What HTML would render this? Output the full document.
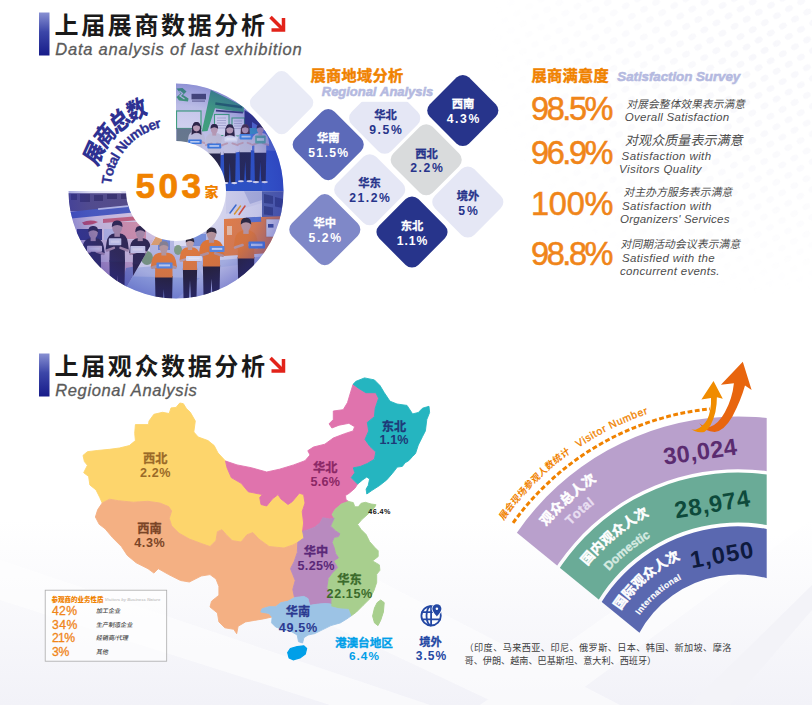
<!DOCTYPE html>
<html lang="zh"><head><meta charset="utf-8"><title>Exhibition data analysis</title>
<style>
html,body{margin:0;padding:0;background:#fff;}
body{width:812px;height:705px;overflow:hidden;font-family:"Liberation Sans","Noto Sans CJK SC",sans-serif;}
svg{display:block;font-family:"Liberation Sans","Noto Sans CJK SC",sans-serif;}
</style></head><body>
<svg role="img" aria-label="Exhibition data infographic" width="812" height="705" viewBox="0 0 812 705">
<defs><pattern id="dots" width="14" height="12" patternUnits="userSpaceOnUse" patternTransform="rotate(-30)"><ellipse cx="7" cy="6" rx="4.2" ry="3" fill="#f7f7fb"/></pattern><radialGradient id="dotmask" cx="0.85" cy="0.15" r="0.75"><stop offset="0" stop-color="#fff"/><stop offset="0.6" stop-color="#fff" stop-opacity="0.5"/><stop offset="1" stop-color="#fff" stop-opacity="0"/></radialGradient><mask id="dm"><rect x="450" y="0" width="362" height="330" fill="url(#dotmask)"/></mask><linearGradient id="streak" x1="0" y1="0" x2="1" y2="0"><stop offset="0" stop-color="#eef0f6" stop-opacity="0"/><stop offset="0.5" stop-color="#eef0f6" stop-opacity="0.9"/><stop offset="1" stop-color="#eef0f6" stop-opacity="0"/></linearGradient></defs>
<rect width="812" height="705" fill="#ffffff"/>
<rect x="450" y="0" width="362" height="330" fill="url(#dots)" mask="url(#dm)"/>
<defs><linearGradient id="bgb" x1="0" y1="0" x2="0" y2="1"><stop offset="0" stop-color="#f2f2f8" stop-opacity="0"/><stop offset="1" stop-color="#f2f2f8" stop-opacity="1"/></linearGradient><linearGradient id="bgl" x1="0" y1="0" x2="1" y2="0"><stop offset="0" stop-color="#f1f1f7" stop-opacity="1"/><stop offset="1" stop-color="#f1f1f7" stop-opacity="0"/></linearGradient></defs>
<rect x="0" y="520" width="812" height="185" fill="url(#bgb)"/>
<g fill="#fff" opacity="0.55"><polygon points="0,560 0,600 330,705 430,705"/><polygon points="150,540 300,540 620,705 500,705"/><polygon points="560,705 812,520 812,470 480,705"/></g>
<polygon points="690,705 812,585 812,610 730,705" fill="#f3f3f8"/>
<defs><linearGradient id="bar" x1="0" y1="0" x2="0" y2="1"><stop offset="0" stop-color="#8890d2"/><stop offset="0.45" stop-color="#3c46a8"/><stop offset="1" stop-color="#171c8a"/></linearGradient></defs>
<rect x="39" y="12.5" width="10.5" height="43" fill="url(#bar)"/>
<text x="54.50" y="34.40" font-size="24" font-weight="bold" letter-spacing="2.64" fill="#1a1a1a">上届展商数据分析</text>
<g stroke="#e2231a" stroke-width="3.5" fill="none" stroke-linecap="butt"><path d="M270.5 17.0 L282.0 28.5"/><path d="M283.5 18.0 L283.5 30.0 L271.5 30.0" stroke-linejoin="miter"/></g>
<text x="55.20 67.91 77.88 83.25 93.22 98.60 108.56 118.53 128.50 132.96 142.00 151.04 155.50 164.54 169.92 179.89 185.26 190.64 195.10 205.07 214.11 219.48 224.86 234.83 243.87 253.84 258.30 268.26 272.72 278.10 282.56 292.52" y="55.3" font-size="16.5" fill="#5a5a5a" font-style="italic" stroke="#5a5a5a" stroke-width="0.3">Data analysis of last exhibition</text>
<rect x="39" y="353.5" width="10.5" height="43" fill="url(#bar)"/>
<text x="54.50" y="375.40" font-size="24" font-weight="bold" letter-spacing="2.64" fill="#1a1a1a">上届观众数据分析</text>
<g stroke="#e2231a" stroke-width="3.5" fill="none" stroke-linecap="butt"><path d="M270.5 358.0 L282.0 369.5"/><path d="M283.5 359.0 L283.5 371.0 L271.5 371.0" stroke-linejoin="miter"/></g>
<text x="55.20 67.76 77.59 87.41 91.72 101.54 111.37 121.19 125.50 130.73 142.39 152.21 162.03 166.34 175.24 184.14 188.45" y="396.3" font-size="16.5" fill="#5a5a5a" font-style="italic" stroke="#5a5a5a" stroke-width="0.3">Regional Analysis</text>
<defs><clipPath id="ring"><path d="M176.00 83.50 A107.50 107.50 0 1 1 68.50 191.00 L126.00 191.00 A50.00 50.00 0 1 0 176.00 141.00 Z"/></clipPath><clipPath id="sec1"><rect x="176" y="80" width="112" height="111.3"/></clipPath><clipPath id="sec2"><path d="M120 191.3 L290 191.3 L290 305 L116.3 305 L160 229 Z"/></clipPath><clipPath id="sec3"><path d="M60 193.2 L182 193.2 L160 229 L116.3 305 L60 305 Z"/></clipPath><filter id="bl" x="-5%" y="-5%" width="110%" height="110%"><feGaussianBlur stdDeviation="0.55"/></filter><filter id="bl2" x="-5%" y="-5%" width="110%" height="110%"><feGaussianBlur stdDeviation="1.2"/></filter><radialGradient id="tint" gradientUnits="userSpaceOnUse" cx="176" cy="191" r="107.5"><stop offset="0.45" stop-color="#4a3fb0" stop-opacity="0.08"/><stop offset="0.8" stop-color="#3b3db4" stop-opacity="0.18"/><stop offset="1" stop-color="#2f33b0" stop-opacity="0.42"/></radialGradient></defs>
<g clip-path="url(#ring)"><g clip-path="url(#sec1)"><g filter="url(#bl)"><rect x="176" y="80" width="112" height="112" fill="#cdcfec"/><rect x="176" y="80" width="36" height="30" fill="#d5d7f0"/><path d="M176.5 88.5 L182.5 88 L186.5 91.5 L183 95 L188.5 98.5 L188 101.5 L179 100.5 L176.5 97 L180.5 93.5 Z" fill="#43a96b"/><path d="M179.5 91 L182.5 93.5 L180 96 L184.5 99 " stroke="#d5d7f0" stroke-width="1.3" fill="none"/><rect x="191.5" y="93.8" width="14.5" height="5.6" fill="#4a4a63"/><rect x="192" y="100.3" width="13" height="1.6" fill="#8a8aa8"/><path d="M210.8 90 L216.5 93 L243.8 106.5 L243.8 112.4 L215 108.3 L207.5 131 L201.8 131.5 Z" fill="#3fae74"/><rect x="215.5" y="102.2" width="27" height="2.6" fill="#1f6a58" transform="rotate(8 215.5 102.2)"/><rect x="216" y="109.8" width="27" height="1.8" fill="#3e3e70" transform="rotate(4 216 109.8)"/><rect x="176.5" y="111" width="24.5" height="17.5" fill="#e3e4f6" stroke="#43ae78" stroke-width="1.2"/><rect x="176.5" y="128.5" width="15" height="14" fill="#6a7d8a"/><rect x="214.5" y="114.5" width="14.5" height="21" fill="#e6e7f7" stroke="#43ae78" stroke-width="1.1"/><rect x="232" y="118" width="12.5" height="18" fill="#e0e1f5" stroke="#43ae78" stroke-width="1.1"/><g stroke="#9a9ac0" stroke-width="0.6"><path d="M217 118h9M217 120.5h9M217 123h9M217 125.5h9M217 128h9M234 121h8M234 123.5h8M234 126h8M234 128.500h8"/></g><path d="M244.500 110 L262 121 L262 140 L244.500 133 Z" fill="#2c2f73"/><path d="M252 122 L290 146 L290 170 L252 160 Z" fill="#5a78d6"/><rect x="249" y="128" width="10" height="6" fill="#3aa0c8"/><path d="M176 172 L205 158 L250 150 L290 158 L290 192 L176 192 Z" fill="#2a52c6"/><path d="M262 150 L290 152 L290 192 L262 192 Z" fill="#2f56cc"/><path d="M190.5 149.5 L202.5 149.5 L201.9 180.2 L197.5 180.2 L196.5 160.1 L195.5 180.2 L191.1 180.2 Z" fill="#22264f"/><ellipse cx="192.0" cy="180.9" rx="3.1" ry="1.1" fill="#e8e8f4"/><ellipse cx="201.0" cy="180.9" rx="3.1" ry="1.1" fill="#e8e8f4"/><path d="M195.0 131.0 Q189.2 131.3 188.3 137.6 L187.6 142.4 L190.7 143.6 L190.5 151.0 L202.5 151.0 L202.3 143.6 L205.4 142.4 L204.7 137.6 Q203.8 131.3 198.0 131.0 Z" fill="#c8c9de"/><path d="M188.6 143.0 L193.9 141.2 M204.4 143.0 L199.1 141.2" stroke="#c7a6b4" stroke-width="1.9" stroke-linecap="round" fill="none"/><rect x="194.6" y="128.8" width="3.8" height="4.6" fill="#c7a6b4"/><path d="M192.1 126.1 Q196.5 119.6 200.9 126.1 L201.5 135.0 Q196.5 130.7 191.5 135.0 Z" fill="#2a2038"/><ellipse cx="196.5" cy="127.0" rx="3.5" ry="4.4" fill="#c7a6b4"/><path d="M192.7 126.7 Q192.7 121.7 196.5 122.1 Q200.3 121.7 200.3 126.7 Q196.5 123.6 192.7 126.7 Z" fill="#2a2038"/><rect x="188.2" y="139.5" width="13.5" height="4.6" rx="0.8" fill="#3b7be0"/><rect x="190.2" y="141.0" width="9.4" height="1.6" fill="#fff" opacity="0.7"/><path d="M207.9 152.0 L220.7 152.0 L220.1 183.2 L215.4 183.2 L214.3 162.7 L213.2 183.2 L208.5 183.2 Z" fill="#23223f"/><ellipse cx="209.4" cy="183.9" rx="3.4" ry="1.1" fill="#e8e8f4"/><ellipse cx="219.2" cy="183.9" rx="3.4" ry="1.1" fill="#e8e8f4"/><path d="M212.7 133.1 Q206.5 133.5 205.5 139.9 L204.8 144.7 L208.0 146.0 L207.9 153.5 L220.7 153.5 L220.6 146.0 L223.8 144.7 L223.1 139.9 Q222.1 133.5 215.9 133.1 Z" fill="#cbcbdc"/><path d="M205.9 145.3 L211.6 143.5 M222.7 145.3 L217.0 143.5" stroke="#c7a6b4" stroke-width="2.0" stroke-linecap="round" fill="none"/><rect x="212.3" y="130.9" width="3.9" height="4.7" fill="#c7a6b4"/><ellipse cx="214.3" cy="129.1" rx="3.5" ry="4.5" fill="#c7a6b4"/><path d="M210.5 128.8 Q210.4 123.7 214.3 124.1 Q218.2 123.7 218.1 128.8 Q214.3 125.7 210.5 128.8 Z" fill="#2a2038"/><rect x="207.3" y="143.5" width="14.0" height="5.0" rx="0.8" fill="#3b7be0"/><rect x="209.4" y="145.1" width="9.8" height="1.7" fill="#fff" opacity="0.7"/><path d="M223.8 151.7 L235.8 151.7 L235.2 182.4 L230.8 182.4 L229.8 162.3 L228.8 182.4 L224.4 182.4 Z" fill="#23264a"/><ellipse cx="225.3" cy="183.1" rx="3.1" ry="1.1" fill="#e8e8f4"/><ellipse cx="234.3" cy="183.1" rx="3.1" ry="1.1" fill="#e8e8f4"/><path d="M228.3 133.2 Q222.5 133.5 221.6 139.8 L220.9 144.6 L224.0 145.8 L223.8 153.2 L235.8 153.2 L235.6 145.8 L238.7 144.6 L238.0 139.8 Q237.1 133.5 231.3 133.2 Z" fill="#d2d2e6"/><path d="M221.9 145.2 L227.2 143.4 M237.7 145.2 L232.4 143.4" stroke="#c7a6b4" stroke-width="1.9" stroke-linecap="round" fill="none"/><rect x="227.9" y="131.0" width="3.8" height="4.6" fill="#c7a6b4"/><path d="M225.4 128.3 Q229.8 121.8 234.2 128.3 L234.8 137.2 Q229.8 132.9 224.8 137.2 Z" fill="#2a2038"/><ellipse cx="229.8" cy="129.2" rx="3.5" ry="4.4" fill="#c7a6b4"/><path d="M226.0 128.9 Q226.0 123.9 229.8 124.3 Q233.6 123.9 233.6 128.9 Q229.8 125.8 226.0 128.9 Z" fill="#2a2038"/><rect x="224.5" y="136.5" width="13.5" height="5.0" rx="0.8" fill="#e8eefc"/><rect x="226.5" y="138.1" width="9.4" height="1.7" fill="#fff" opacity="0.7"/><path d="M239.5 150.8 L250.9 150.8 L250.3 180.5 L246.2 180.5 L245.2 161.0 L244.2 180.5 L240.1 180.5 Z" fill="#22264f"/><ellipse cx="240.9" cy="181.2" rx="3.0" ry="1.0" fill="#e8e8f4"/><ellipse cx="249.5" cy="181.2" rx="3.0" ry="1.0" fill="#e8e8f4"/><path d="M243.8 132.9 Q238.3 133.2 237.5 139.3 L236.8 143.9 L239.7 145.1 L239.5 152.3 L250.9 152.3 L250.7 145.1 L253.6 143.9 L252.9 139.3 Q252.1 133.2 246.6 132.9 Z" fill="#c8c9de"/><path d="M237.8 144.5 L242.8 142.8 M252.6 144.5 L247.6 142.8" stroke="#c7a6b4" stroke-width="1.8" stroke-linecap="round" fill="none"/><rect x="243.3" y="130.8" width="3.7" height="4.5" fill="#c7a6b4"/><path d="M240.9 128.2 Q245.2 121.9 249.5 128.2 L250.0 136.7 Q245.2 132.7 240.4 136.7 Z" fill="#4a2f38"/><ellipse cx="245.2" cy="129.0" rx="3.3" ry="4.3" fill="#c7a6b4"/><path d="M241.6 128.8 Q241.5 123.9 245.2 124.3 Q248.9 123.9 248.8 128.8 Q245.2 125.8 241.6 128.8 Z" fill="#4a2f38"/><rect x="239.6" y="134.0" width="13.0" height="5.4" rx="0.8" fill="#3f8de8"/><rect x="241.5" y="135.7" width="9.1" height="1.8" fill="#fff" opacity="0.7"/><path d="M254.3 151.2 L266.3 151.2 L265.7 181.4 L261.3 181.4 L260.3 161.7 L259.3 181.4 L254.9 181.4 Z" fill="#20254f"/><ellipse cx="255.8" cy="182.1" rx="3.2" ry="1.1" fill="#e8e8f4"/><ellipse cx="264.8" cy="182.1" rx="3.2" ry="1.1" fill="#e8e8f4"/><path d="M258.8 133.1 Q253.0 133.4 252.1 139.5 L251.4 144.3 L254.4 145.4 L254.3 152.7 L266.3 152.7 L266.2 145.4 L269.2 144.3 L268.5 139.5 Q267.6 133.4 261.8 133.1 Z" fill="#cdcde2"/><path d="M252.4 144.9 L257.7 143.1 M268.2 144.9 L262.9 143.1" stroke="#c7a6b4" stroke-width="1.9" stroke-linecap="round" fill="none"/><rect x="258.4" y="130.9" width="3.8" height="4.5" fill="#c7a6b4"/><ellipse cx="260.3" cy="129.1" rx="3.4" ry="4.3" fill="#c7a6b4"/><path d="M256.6 128.8 Q256.5 123.9 260.3 124.3 Q264.1 123.9 264.0 128.8 Q260.3 125.8 256.6 128.8 Z" fill="#2a2038"/><rect x="255.2" y="135.5" width="10.5" height="8.0" rx="0.8" fill="#5fb7a0"/><rect x="256.8" y="138.1" width="7.3" height="2.7" fill="#fff" opacity="0.7"/></g></g><g clip-path="url(#sec2)"><g filter="url(#bl)"><rect x="110" y="190" width="180" height="115" fill="#e1e2f3"/><rect x="262" y="191" width="26" height="27" fill="#5365a8"/><path d="M264 194 l9 2 l0 8 l-9 -1 Z M275 197 l8 2 l0 9 l-8 -1.5 Z M264 206 l9 1.500 l0 8 l-9 -1 Z" fill="#33407e"/><path d="M226 191 L262 191 L262 203 L226 214 Z" fill="#d6d8ef"/><path d="M244 191 L262 191 L262 200 L250 204 Z" fill="#b3b9de"/><g stroke-width="1.5" fill="none" stroke-linecap="round"><path d="M230 213 L236 205" stroke="#3d6fd0"/><path d="M234.5 214 L240.5 206" stroke="#e8a020"/><path d="M239 214.500 L245 206" stroke="#e05030"/></g><path d="M224 219 L284 216 L284 252 L224 256 Z" fill="#ef843f"/><rect x="246" y="217.5" width="15" height="5" fill="#5a79d2" transform="rotate(-3 246 217.5)"/><rect x="266" y="219" width="14" height="18" fill="#e6e6f2" stroke="#c9763f" stroke-width="0.6"/><rect x="268" y="224" width="5.500" height="3.600" fill="#3a4f8f"/><rect x="227" y="226" width="5" height="9" fill="#f6c9a6"/><rect x="150" y="232" width="60" height="32" fill="#bfc3e6"/><rect x="158" y="238" width="12" height="12" fill="#6f8ad8"/><rect x="174" y="236" width="12" height="10" fill="#e9ebfa"/><rect x="190" y="234" width="16" height="12" fill="#7c96dc"/><rect x="200" y="246" width="12" height="12" fill="#a9b4e6"/><rect x="142" y="231" width="20" height="14" fill="#e6a66a"/><ellipse cx="147" cy="258" rx="6" ry="7" fill="#7f9f7a"/><ellipse cx="178" cy="250" rx="4" ry="5" fill="#86a680"/><path d="M110 270 L290 254 L290 305 L110 305 Z" fill="#b9c3e8"/><path d="M110 276 L200 278 L170 305 L110 305 Z" fill="#9db0e2"/><path d="M200 270 L290 258 L290 300 L215 300 Z" fill="#c9cdeb"/><path d="M237.7 257.1 L254.3 257.1 L253.5 300.2 L247.4 300.2 L246.0 271.8 L244.6 300.2 L238.5 300.2 Z" fill="#221d2b"/><path d="M244.0 230.5 Q235.9 230.9 234.7 239.9 L233.7 246.7 L237.9 248.4 L237.7 258.6 L254.3 258.6 L254.1 248.4 L258.3 246.7 L257.3 239.9 Q256.1 230.9 248.0 230.5 Z" fill="#f07d2c"/><path d="M235.1 247.5 L242.5 245.0 M256.9 247.5 L249.5 245.0" stroke="#c9a39f" stroke-width="2.6" stroke-linecap="round" fill="none"/><rect x="243.3" y="227.4" width="5.4" height="6.5" fill="#c9a39f"/><ellipse cx="246.0" cy="224.8" rx="4.9" ry="6.3" fill="#c9a39f"/><path d="M240.7 224.5 Q240.6 217.4 246.0 217.9 Q251.4 217.4 251.3 224.5 Q246.0 220.1 240.7 224.5 Z" fill="#2b2530"/><rect x="248.5" y="241.5" width="16.5" height="7.0" rx="0.8" fill="#4c83e0"/><rect x="251.0" y="243.7" width="11.5" height="2.4" fill="#fff" opacity="0.7"/><path d="M202.9 264.9 L220.1 264.9 L219.3 306.0 L213.0 306.0 L211.5 278.8 L210.0 306.0 L203.7 306.0 Z" fill="#221d2b"/><path d="M209.4 239.5 Q201.0 240.0 199.7 248.5 L198.7 254.9 L203.1 256.6 L202.9 266.4 L220.1 266.4 L219.9 256.6 L224.3 254.9 L223.3 248.5 Q222.0 240.0 213.6 239.5 Z" fill="#ee7b2b"/><path d="M200.2 255.7 L207.8 253.3 M222.8 255.7 L215.2 253.3" stroke="#bf9a98" stroke-width="2.7" stroke-linecap="round" fill="none"/><rect x="208.9" y="236.6" width="5.2" height="6.2" fill="#bf9a98"/><ellipse cx="211.5" cy="234.1" rx="4.7" ry="6.0" fill="#bf9a98"/><path d="M206.4 233.8 Q206.3 227.0 211.5 227.5 Q216.7 227.0 216.6 233.8 Q211.5 229.6 206.4 233.8 Z" fill="#2b2530"/><rect x="209.5" y="246.0" width="15.0" height="6.0" rx="0.8" fill="#5a8fe6"/><rect x="211.8" y="247.9" width="10.5" height="2.0" fill="#fff" opacity="0.7"/><path d="M182.9 268.4 L197.1 268.4 L196.4 303.0 L191.2 303.0 L190.0 280.2 L188.8 303.0 L183.6 303.0 Z" fill="#221d2b"/><path d="M188.3 247.3 Q181.4 247.6 180.3 254.7 L179.5 260.2 L183.1 261.5 L182.9 269.9 L197.1 269.9 L196.9 261.5 L200.5 260.2 L199.7 254.7 Q198.6 247.6 191.7 247.3 Z" fill="#f08030"/><path d="M180.7 260.9 L187.0 258.8 M199.3 260.9 L193.0 258.8" stroke="#c9a8a6" stroke-width="2.2" stroke-linecap="round" fill="none"/><rect x="187.8" y="244.8" width="4.4" height="5.2" fill="#c9a8a6"/><ellipse cx="190.0" cy="242.7" rx="3.9" ry="5.0" fill="#c9a8a6"/><path d="M185.7 242.4 Q185.6 236.7 190.0 237.2 Q194.4 236.7 194.3 242.4 Q190.0 238.9 185.7 242.4 Z" fill="#2b2530"/><rect x="186.0" y="256.0" width="16.0" height="5.0" rx="0.8" fill="#e9eefc"/><rect x="188.4" y="257.6" width="11.2" height="1.7" fill="#fff" opacity="0.7"/><path d="M155.0 276.1 L172.6 276.1 L171.8 314.7 L165.3 314.7 L163.8 289.3 L162.3 314.7 L155.8 314.7 Z" fill="#221d2b"/><path d="M161.6 252.4 Q153.0 252.8 151.7 260.8 L150.7 266.9 L155.2 268.4 L155.0 277.6 L172.6 277.6 L172.4 268.4 L176.9 266.9 L175.9 260.8 Q174.6 252.8 166.0 252.4 Z" fill="#f07f2e"/><path d="M152.2 267.6 L160.0 265.3 M175.4 267.6 L167.6 265.3" stroke="#bfa09c" stroke-width="2.8" stroke-linecap="round" fill="none"/><rect x="161.4" y="249.7" width="4.9" height="5.8" fill="#bfa09c"/><ellipse cx="163.8" cy="247.3" rx="4.4" ry="5.6" fill="#bfa09c"/><path d="M159.0 247.0 Q158.9 240.7 163.8 241.2 Q168.7 240.7 168.6 247.0 Q163.8 243.1 159.0 247.0 Z" fill="#8a8690"/><rect x="156.5" y="262.5" width="16.0" height="6.0" rx="0.8" fill="#5a8fe6"/><rect x="158.9" y="264.4" width="11.2" height="2.0" fill="#fff" opacity="0.7"/></g></g><g clip-path="url(#sec3)"><g filter="url(#bl)"><rect x="60" y="190" width="125" height="115" fill="#ecdfee"/><rect x="60" y="190" width="125" height="21" fill="#565182"/><g fill="#353262"><rect x="71" y="194" width="6" height="6"/><rect x="80" y="194" width="10" height="8"/><rect x="94" y="195" width="9" height="6"/><rect x="107" y="194" width="10" height="5"/><rect x="121" y="194" width="9" height="5"/></g><path d="M60 213 L133 205 L133 212.5 L60 219.5 Z" fill="#4863c6"/><rect x="98" y="208.300" width="30" height="1.800" fill="#cdd6f6" transform="rotate(-6 98 208.3)"/><path d="M78 221 L150 214 L150 232 L78 236 Z" fill="#ecdde8"/><path d="M82 222.500 Q90 219 98 222 Q92 225.500 84 225 Z" fill="#d8505f"/><path d="M103 219 L146 215.500 L146 219.500 L103 223 Z" fill="#d96a78"/><rect x="120" y="222" width="26" height="17" fill="#e9a3ae"/><rect x="77" y="229" width="25" height="11" fill="#2d3070"/><rect x="104" y="229" width="12" height="12" fill="#c9d3f0"/><rect x="78" y="240" width="80" height="30" fill="#e6d3e4"/><path d="M96 262 L150 262 L150 300 L100 300 Z" fill="#d4aec8"/><path d="M126 268 L160 262 L160 300 L118 300 Z" fill="#7f8cc6"/><path d="M85.4 262.9 L101.0 262.9 L100.2 303.5 L94.5 303.5 L93.2 276.7 L91.9 303.5 L86.2 303.5 Z" fill="#211d33"/><path d="M91.3 237.9 Q83.7 238.3 82.6 246.7 L81.6 253.1 L85.6 254.7 L85.4 264.4 L101.0 264.4 L100.8 254.7 L104.8 253.1 L103.8 246.7 Q102.7 238.3 95.1 237.9 Z" fill="#26223a"/><path d="M82.9 253.9 L89.9 251.5 M103.5 253.9 L96.5 251.5" stroke="#b99aa8" stroke-width="2.5" stroke-linecap="round" fill="none"/><rect x="90.6" y="235.0" width="5.1" height="6.1" fill="#b99aa8"/><ellipse cx="93.2" cy="232.5" rx="4.6" ry="5.9" fill="#b99aa8"/><path d="M88.2 232.2 Q88.1 225.5 93.2 226.0 Q98.3 225.5 98.2 232.2 Q93.2 228.1 88.2 232.2 Z" fill="#26203a"/><rect x="87.0" y="245.8" width="15.0" height="6.0" rx="0.8" fill="#efdfe6"/><rect x="89.2" y="247.7" width="10.5" height="2.0" fill="#fff" opacity="0.7"/><path d="M132.8 262.9 L147.8 262.9 L147.1 303.5 L141.6 303.5 L140.3 276.7 L139.0 303.5 L133.5 303.5 Z" fill="#211d33"/><path d="M138.5 237.9 Q131.1 238.3 130.0 246.7 L129.1 253.1 L133.0 254.7 L132.8 264.4 L147.8 264.4 L147.6 254.7 L151.5 253.1 L150.6 246.7 Q149.5 238.3 142.1 237.9 Z" fill="#26223a"/><path d="M130.4 253.9 L137.1 251.5 M150.2 253.9 L143.5 251.5" stroke="#b99aa8" stroke-width="2.4" stroke-linecap="round" fill="none"/><rect x="137.7" y="235.0" width="5.1" height="6.1" fill="#b99aa8"/><ellipse cx="140.3" cy="232.5" rx="4.6" ry="5.9" fill="#b99aa8"/><path d="M135.3 232.2 Q135.2 225.5 140.3 226.0 Q145.4 225.5 145.3 232.2 Q140.3 228.1 135.3 232.2 Z" fill="#26203a"/><rect x="130.3" y="246.0" width="15.0" height="7.0" rx="0.8" fill="#e6e9f8"/><rect x="132.6" y="248.2" width="10.5" height="2.4" fill="#fff" opacity="0.7"/><path d="M109.4 260.2 L125.0 260.2 L124.2 303.8 L118.5 303.8 L117.2 275.0 L115.9 303.8 L110.2 303.8 Z" fill="#211d33"/><path d="M115.3 233.3 Q107.7 233.7 106.5 242.7 L105.6 249.6 L109.6 251.3 L109.4 261.7 L125.0 261.7 L124.8 251.3 L128.8 249.6 L127.9 242.7 Q126.7 233.7 119.1 233.3 Z" fill="#26223a"/><path d="M106.9 250.5 L113.9 247.9 M127.5 250.5 L120.5 247.9" stroke="#b99aa8" stroke-width="2.5" stroke-linecap="round" fill="none"/><rect x="114.4" y="230.2" width="5.5" height="6.6" fill="#b99aa8"/><ellipse cx="117.2" cy="227.5" rx="5.0" ry="6.3" fill="#b99aa8"/><path d="M111.8 227.1 Q111.7 220.0 117.2 220.5 Q122.7 220.0 122.6 227.1 Q117.2 222.7 111.8 227.1 Z" fill="#26203a"/><rect x="108.8" y="238.3" width="12.5" height="7.0" rx="0.8" fill="#dfe6f8"/><rect x="110.7" y="240.5" width="8.8" height="2.4" fill="#fff" opacity="0.7"/></g><rect x="60" y="190" width="125" height="115" fill="#5a3fa6" opacity="0.13"/></g><circle cx="176" cy="191" r="108" fill="url(#tint)"/></g>
<g aria-label="展商总数" fill="#2e3192" font-size="23" font-weight="900" text-anchor="middle"><text transform="translate(101.30 157.66) rotate(-65.95) skewX(-9.0) scale(0.9 1)">展</text><text transform="translate(110.80 141.60) rotate(-52.85) skewX(-9.0) scale(0.9 1)">商</text><text transform="translate(123.69 128.11) rotate(-39.75) skewX(-9.0) scale(0.9 1)">总</text><text transform="translate(139.30 117.89) rotate(-26.66) skewX(-9.0) scale(0.9 1)">数</text></g>
<g stroke="#2e3192" stroke-width="0.25" font-size="14.0" font-weight="bold" font-style="normal" fill="#2e3192"><text transform="translate(111.63 180.62) rotate(-80.84)" text-anchor="middle">T</text><text transform="translate(113.33 173.01) rotate(-73.98)" text-anchor="middle">o</text><text transform="translate(115.20 167.46) rotate(-68.84)" text-anchor="middle">t</text><text transform="translate(117.39 162.44) rotate(-64.02)" text-anchor="middle">a</text><text transform="translate(119.79 157.96) rotate(-59.55)" text-anchor="middle">l</text><text transform="translate(125.12 150.23) rotate(-51.30)" text-anchor="middle">N</text><text transform="translate(130.91 143.90) rotate(-43.75)" text-anchor="middle">u</text><text transform="translate(138.43 137.71) rotate(-35.18)" text-anchor="middle">m</text><text transform="translate(146.79 132.71) rotate(-26.61)" text-anchor="middle">b</text><text transform="translate(153.60 129.77) rotate(-20.09)" text-anchor="middle">e</text><text transform="translate(159.20 128.00) rotate(-14.93)" text-anchor="middle">r</text></g>
<text x="135.50 158.46 181.42" y="197.8" font-size="35.2" fill="#f08200" font-weight="bold" stroke="#f08200" stroke-width="0.7">503</text>
<text x="204.50" y="197.40" font-size="14" font-weight="900" fill="#f08200">家</text>
<defs><linearGradient id="fadeT" x1="0" y1="0" x2="0" y2="1"><stop offset="0" stop-color="#fff" stop-opacity="1"/><stop offset="1" stop-color="#fff" stop-opacity="0"/></linearGradient></defs>
<rect x="256.85" y="77.85" width="49.50" height="49.50" rx="8.0" fill="#e9ebf6" transform="rotate(45 281.60 102.60)"/>
<rect x="356.91" y="90.41" width="55.58" height="55.58" rx="9.0" fill="#e5e7f5" transform="rotate(45 384.70 118.20)"/>
<rect x="345" y="78" width="80" height="23.8" fill="#fff"/>
<rect x="300.41" y="116.81" width="55.58" height="55.58" rx="9.0" fill="#5c6ab9" transform="rotate(45 328.20 144.60)"/>
<rect x="435.01" y="82.71" width="55.58" height="55.58" rx="9.0" fill="#27348b" transform="rotate(45 462.80 110.50)"/>
<rect x="398.41" y="132.01" width="55.58" height="55.58" rx="9.0" fill="#d9dbdc" transform="rotate(45 426.20 159.80)"/>
<rect x="341.91" y="161.91" width="55.58" height="55.58" rx="9.0" fill="#e5e7f5" transform="rotate(45 369.70 189.70)"/>
<rect x="440.01" y="174.21" width="55.58" height="55.58" rx="9.0" fill="#e5e7f5" transform="rotate(45 467.80 202.00)"/>
<rect x="297.01" y="201.81" width="55.58" height="55.58" rx="9.0" fill="#7f88c8" transform="rotate(45 324.80 229.60)"/>
<rect x="384.21" y="204.21" width="55.58" height="55.58" rx="9.0" fill="#27348b" transform="rotate(45 412.00 232.00)"/>
<text x="328.20" y="142.30" text-anchor="middle" font-size="11.3" font-weight="bold" fill="#fff" stroke="#fff" stroke-width="0.3" stroke-linejoin="round">华南</text>
<text x="308.20 316.34 324.47 329.22 337.35" y="157.2" font-size="12.2" fill="#fff" font-weight="bold">51.5%</text>
<text x="385.50" y="118.70" text-anchor="middle" font-size="11.3" font-weight="bold" fill="#27348b" stroke="#27348b" stroke-width="0.3" stroke-linejoin="round">华北</text>
<text x="369.20 377.58 382.57 390.95" y="133.6" font-size="12.2" fill="#27348b" font-weight="bold">9.5%</text>
<text x="463.00" y="108.00" text-anchor="middle" font-size="11.3" font-weight="bold" fill="#fff" stroke="#fff" stroke-width="0.3" stroke-linejoin="round">西南</text>
<text x="446.70 455.08 460.07 468.45" y="122.9" font-size="12.2" fill="#fff" font-weight="bold">4.3%</text>
<text x="426.50" y="157.50" text-anchor="middle" font-size="11.3" font-weight="bold" fill="#27348b" stroke="#27348b" stroke-width="0.3" stroke-linejoin="round">西北</text>
<text x="410.20 418.58 423.57 431.95" y="172.4" font-size="12.2" fill="#27348b" font-weight="bold">2.2%</text>
<text x="369.50" y="187.20" text-anchor="middle" font-size="11.3" font-weight="bold" fill="#27348b" stroke="#27348b" stroke-width="0.3" stroke-linejoin="round">华东</text>
<text x="349.20 357.49 365.77 370.67 378.95" y="202.1" font-size="12.2" fill="#27348b" font-weight="bold">21.2%</text>
<text x="468.00" y="199.70" text-anchor="middle" font-size="11.3" font-weight="bold" fill="#27348b" stroke="#27348b" stroke-width="0.3" stroke-linejoin="round">境外</text>
<text x="458.20 466.95" y="214.6" font-size="12.2" fill="#27348b" font-weight="bold">5%</text>
<text x="324.80" y="227.30" text-anchor="middle" font-size="11.3" font-weight="bold" fill="#fff" stroke="#fff" stroke-width="0.3" stroke-linejoin="round">华中</text>
<text x="308.50 316.88 321.87 330.25" y="242.2" font-size="12.2" fill="#fff" font-weight="bold">5.2%</text>
<text x="412.00" y="229.70" text-anchor="middle" font-size="11.3" font-weight="bold" fill="#fff" stroke="#fff" stroke-width="0.3" stroke-linejoin="round">东北</text>
<text x="396.70 404.42 408.74 416.45" y="244.6" font-size="12.2" fill="#fff" font-weight="bold">1.1%</text>
<text x="310.50" y="81.40" font-size="15.2" font-weight="bold" letter-spacing="0.3" fill="#f08200" stroke="#f08200" stroke-width="0.45" stroke-linejoin="round">展商地域分析</text>
<text x="321.80 331.16 338.36 346.27 349.85 357.76 365.67 372.87 376.46 380.04 389.40 397.31 404.51 408.09 415.29 422.49 426.07" y="95.6" font-size="13.0" fill="#b4b9e0" font-weight="bold" font-style="italic" stroke="#b4b9e0" stroke-width="0.55">Regional Analysis</text>
<text x="531.50" y="81.30" font-size="15.2" font-weight="bold" letter-spacing="0.3" fill="#f08200" stroke="#f08200" stroke-width="0.45" stroke-linejoin="round">展商满意度</text>
<text x="617.30 626.16 633.54 637.92 641.57 648.95 653.33 660.71 668.09 672.47 676.12 684.23 692.34 695.99 704.85 712.96 718.09 725.47 732.85" y="80.6" font-size="13.4" fill="#b4b9e0" font-weight="bold" font-style="italic" stroke="#b4b9e0" stroke-width="0.55">Satisfaction Survey</text>
<text x="531.00 546.66 562.32 568.94 584.60" y="119.7" font-size="32.5" fill="#f08519" stroke="#f08519" stroke-width="0.55">98.5%</text>
<text x="531.00 546.66 562.32 568.94 584.60" y="164.2" font-size="32.5" fill="#f08519" stroke="#f08519" stroke-width="0.55">96.9%</text>
<text x="531.00 548.87 566.73 584.60" y="214.6" font-size="32.5" fill="#f08519" stroke="#f08519" stroke-width="0.55">100%</text>
<text x="531.00 546.66 562.32 568.94 584.60" y="265.2" font-size="32.5" fill="#f08519" stroke="#f08519" stroke-width="0.55">98.8%</text>
<text transform="translate(626.50 108.30) skewX(-12.0)" font-size="10.8" fill="#4d4d4d">对展会整体效果表示满意</text>
<text x="624.70 633.93 639.97 646.65 650.76 657.45 660.29 663.13 666.61 674.56 681.25 684.73 687.57 693.60 697.08 703.77 709.80 713.28 716.12 722.80" y="120.8" font-size="11.5" fill="#4d4d4d" font-style="italic">Overall Satisfaction</text>
<text transform="translate(625.00 145.00) skewX(-12.0)" font-size="13.1" fill="#4d4d4d">对观众质量表示满意</text>
<text x="621.60 629.67 636.47 640.06 643.02 649.17 652.76 659.56 665.71 669.31 672.26 679.06 685.85 689.45 698.15 701.11 704.70" y="159.5" font-size="11.5" fill="#4d4d4d" font-style="italic">Satisfaction with</text>
<text x="619.00 627.06 630.01 636.16 639.11 642.70 649.49 653.71 659.85 663.44 672.78 679.57 686.36 689.31 692.26 695.85" y="173.3" font-size="11.5" fill="#4d4d4d" font-style="italic">Visitors Quality</text>
<text transform="translate(623.50 195.80) skewX(-12.0)" font-size="10.9" fill="#4d4d4d">对主办方服务表示满意</text>
<text x="622.00 630.07 636.87 640.46 643.42 649.57 653.16 659.96 666.11 669.71 672.66 679.46 686.25 689.85 698.55 701.51 705.10" y="209.6" font-size="11.5" fill="#4d4d4d" font-style="italic">Satisfaction with</text>
<text x="620.00 629.14 633.16 639.75 646.34 652.93 655.68 661.62 668.21 672.23 678.17 680.56 683.95 691.81 698.40 702.43 708.37 711.12 717.06 723.65" y="223.4" font-size="11.5" fill="#4d4d4d" font-style="italic">Organizers' Services</text>
<text transform="translate(620.50 247.50) skewX(-12.0)" font-size="10.9" fill="#4d4d4d">对同期活动会议表示满意</text>
<text x="622.00 630.00 636.73 640.26 643.15 649.23 652.76 655.65 662.38 669.11 672.64 681.27 684.16 687.69 694.42 697.95 701.48 708.20" y="261.6" font-size="11.5" fill="#4d4d4d" font-style="italic">Satisfied with the</text>
<text x="620.00 626.04 632.72 639.41 645.44 652.13 656.24 660.36 667.05 673.73 677.21 680.70 687.38 693.42 700.10 706.78 710.27 716.30" y="275.0" font-size="11.5" fill="#4d4d4d" font-style="italic">concurrent events.</text>
<polygon points="102.2,503.0 99.7,497.3 96.0,489.9 89.9,485.0 88.6,476.4 83.7,472.7 87.4,465.3 84.4,461.6 83.0,455.4 87.4,451.7 97.2,450.5 109.6,449.3 119.4,448.0 129.3,445.6 135.4,440.6 134.7,433.3 135.4,424.6 148.5,424.6 149.0,421.0 153.9,414.3 162.5,412.3 169.2,413.5 171.0,407.9 176.0,407.4 179.8,403.0 183.4,403.7 186.4,408.6 190.3,412.3 195.3,421.0 193.8,432.0 198.2,437.0 208.0,440.6 214.2,445.6 218.0,453.0 225.5,461.0 227.0,467.7 231.3,477.6 241.2,483.3 248.3,491.8 262.5,494.6 259.7,497.5 261.0,504.5 266.7,506.0 272.4,498.9 278.0,494.6 280.9,498.9 288.0,504.5 292.2,501.7 299.3,493.2 303.6,494.6 305.0,503.0 302.2,511.6 303.6,523.0 302.6,531.2 303.9,538.0 297.8,542.3 292.8,545.0 284.0,548.0 269.2,546.5 258.8,539.0 252.9,532.6 247.0,534.7 241.0,542.0 232.2,540.6 226.3,534.7 221.9,529.7 217.4,531.7 216.0,540.6 210.0,546.5 201.2,543.5 189.4,539.0 179.0,533.2 171.6,525.8 169.3,518.4 171.6,511.0 168.7,506.6 159.8,503.0 148.0,501.3 133.2,502.2 118.4,500.7 109.6,499.2" fill="#fdd56c" stroke="#fdd56c" stroke-width="0.9" stroke-linejoin="round"/>
<polygon points="102.2,503.0 97.7,509.6 95.4,517.0 99.2,524.3 105.1,528.8 112.5,537.6 121.4,546.5 127.3,555.4 136.2,562.8 148.0,568.7 153.9,573.1 158.3,568.7 168.7,574.6 180.5,580.5 189.4,582.0 201.2,576.0 210.0,574.6 216.0,579.0 218.9,586.4 218.9,595.3 211.5,601.2 210.0,607.0 217.4,613.0 218.9,621.9 224.8,627.8 233.7,629.3 236.7,633.7 238.1,626.3 245.5,621.9 254.4,620.4 263.3,618.9 272.1,617.0 268.9,613.4 260.8,612.0 262.0,608.8 268.9,606.7 275.6,606.7 281.0,602.6 287.7,601.3 294.5,597.6 292.8,589.4 295.2,580.5 290.5,568.7 294.3,561.3 297.3,552.4 297.8,542.3 292.8,545.0 284.0,548.0 269.2,546.5 258.8,539.0 252.9,532.6 247.0,534.7 241.0,542.0 232.2,540.6 226.3,534.7 221.9,529.7 217.4,531.7 216.0,540.6 210.0,546.5 201.2,543.5 189.4,539.0 179.0,533.2 171.6,525.8 169.3,518.4 171.6,511.0 168.7,506.6 159.8,503.0 148.0,501.3 133.2,502.2 118.4,500.7 109.6,499.2" fill="#f4b083" stroke="#f4b083" stroke-width="0.9" stroke-linejoin="round"/>
<polygon points="225.5,461.0 237.0,464.9 251.2,467.7 266.7,472.0 279.5,469.2 293.7,464.9 305.0,460.7 310.0,455.0 307.8,450.7 313.5,447.0 324.8,444.2 333.3,438.0 344.6,433.7 353.1,430.9 354.6,426.7 348.9,423.3 339.0,425.2 331.9,428.0 329.0,423.8 333.3,419.6 333.3,411.0 343.2,409.7 347.5,402.6 350.9,391.2 353.1,384.2 358.8,388.4 365.9,392.7 375.8,392.7 378.6,398.3 375.2,408.2 374.4,416.7 367.3,422.4 368.7,430.9 365.0,439.4 370.0,446.5 375.8,452.0 374.4,459.2 367.3,463.5 360.2,466.5 353.3,467.8 354.8,472.8 351.2,477.7 357.6,484.1 354.8,488.4 349.1,493.3 345.5,495.5 346.0,499.7 348.4,501.4 341.3,504.0 334.9,509.6 332.1,514.6 334.2,518.2 329.5,519.0 322.8,517.7 320.0,523.0 314.7,527.2 308.0,529.9 302.6,531.2 303.6,523.0 302.2,511.6 305.0,503.0 303.6,494.6 299.3,493.2 292.2,501.7 288.0,504.5 280.9,498.9 278.0,494.6 272.4,498.9 266.7,506.0 261.0,504.5 259.7,497.5 262.5,494.6 248.3,491.8 241.2,483.3 231.3,477.6 227.0,467.7" fill="#e073ad" stroke="#e073ad" stroke-width="0.9" stroke-linejoin="round"/>
<polygon points="353.1,384.2 356.0,381.3 364.5,377.9 374.4,379.9 380.0,385.6 384.3,392.7 390.0,401.2 397.0,404.0 407.0,405.4 412.6,413.9 418.3,412.5 422.5,408.2 429.0,406.3 429.6,412.5 426.8,419.6 425.4,430.9 422.5,436.6 418.3,445.0 415.5,453.6 412.6,456.4 408.7,460.7 405.1,462.8 402.3,466.4 397.3,467.1 392.3,473.5 386.7,479.9 379.6,485.5 371.8,490.5 366.8,494.0 366.1,489.1 368.2,485.5 369.6,479.1 366.8,477.0 362.6,479.9 357.6,484.1 351.2,477.7 354.8,472.8 353.3,467.8 360.2,466.5 367.3,463.5 374.4,459.2 375.8,452.0 370.0,446.5 365.0,439.4 368.7,430.9 367.3,422.4 374.4,416.7 375.2,408.2 378.6,398.3 375.8,392.7 365.9,392.7 358.8,388.4" fill="#25b5c0" stroke="#25b5c0" stroke-width="0.9" stroke-linejoin="round"/>
<polygon points="348.4,501.4 353.3,502.6 354.8,506.8 358.3,506.8 361.1,503.3 365.4,502.3 371.1,504.0 376.0,504.7 374.6,507.5 368.2,513.9 361.8,519.6 357.6,524.5 361.1,529.5 366.1,534.5 369.6,541.6 374.6,547.2 378.2,550.8 378.2,556.5 372.6,560.9 379.4,564.9 379.9,570.3 376.7,574.3 376.7,582.4 374.0,590.5 370.0,598.6 363.2,605.3 356.5,612.0 351.0,616.0 348.4,609.4 339.0,608.8 330.9,606.7 330.9,604.0 330.9,594.6 326.8,587.8 328.2,578.4 332.2,573.0 337.6,567.6 333.6,560.9 338.4,557.9 335.6,553.6 334.2,547.9 332.1,542.3 334.2,537.3 338.4,536.6 339.9,533.8 335.6,530.9 330.6,526.0 334.2,518.2 332.1,514.6 334.9,509.6 341.3,504.0" fill="#a8cf8e" stroke="#a8cf8e" stroke-width="0.9" stroke-linejoin="round"/>
<polygon points="302.6,531.2 308.0,529.9 314.7,527.2 320.0,523.0 322.8,517.7 329.5,519.0 334.2,518.2 330.6,526.0 335.6,530.9 339.9,533.8 338.4,536.6 334.2,537.3 332.1,542.3 334.2,547.9 335.6,553.6 338.4,557.9 333.6,560.9 337.6,567.6 332.2,573.0 328.2,578.4 326.8,587.8 330.9,594.6 330.9,604.0 325.5,603.5 318.7,604.0 309.8,605.3 308.0,598.6 303.9,596.4 294.5,597.6 292.8,589.4 295.2,580.5 290.5,568.7 294.3,561.3 297.3,552.4 297.8,542.3 303.9,538.0" fill="#b88abf" stroke="#b88abf" stroke-width="0.9" stroke-linejoin="round"/>
<polygon points="272.1,617.0 271.6,622.9 275.6,626.9 282.3,629.6 290.4,631.0 297.2,635.0 298.5,641.7 302.6,643.0 303.9,637.7 308.0,635.0 314.7,633.6 322.8,629.6 330.9,625.6 340.3,622.9 347.0,618.8 351.0,616.0 348.4,609.4 339.0,608.8 330.9,606.7 330.9,604.0 325.5,603.5 318.7,604.0 309.8,605.3 308.0,598.6 303.9,596.4 294.5,597.6 287.7,601.3 281.0,602.6 275.6,606.7 268.9,606.7 262.0,608.8 260.8,612.0 268.9,613.4" fill="#9cc3e5" stroke="#9cc3e5" stroke-width="0.9" stroke-linejoin="round"/>
<polygon points="287.7,652.5 290.4,648.5 297.2,646.6 303.9,645.8 306.6,648.5 305.3,653.9 299.9,657.9 293.1,659.8 289.1,657.9" fill="#009fe8" stroke="#009fe8" stroke-width="1.2" stroke-linejoin="round"/>
<polygon points="380.7,600.0 384.2,602.6 383.4,612.0 380.7,620.2 378.0,625.6 374.5,622.9 372.6,616.1 374.5,608.0 377.2,602.6" fill="#a8cf8e" stroke="#a8cf8e" stroke-width="1" stroke-linejoin="round"/>
<text x="155.20" y="463.20" text-anchor="middle" font-size="12.2" font-weight="bold" fill="#9a6a28" stroke="#9a6a28" stroke-width="0.3" stroke-linejoin="round">西北</text>
<text x="139.90 147.53 151.66 159.30" y="477.2" font-size="12.6" fill="#9a6a28" font-weight="bold">2.2%</text>
<text x="149.50" y="532.80" text-anchor="middle" font-size="12.2" font-weight="bold" fill="#7a4527" stroke="#7a4527" stroke-width="0.3" stroke-linejoin="round">西南</text>
<text x="134.20 141.83 145.96 153.60" y="546.6" font-size="12.6" fill="#7a4527" font-weight="bold">4.3%</text>
<text x="325.20" y="471.80" text-anchor="middle" font-size="12.2" font-weight="bold" fill="#8a2765" stroke="#8a2765" stroke-width="0.3" stroke-linejoin="round">华北</text>
<text x="310.40 317.70 321.50 328.80" y="486.2" font-size="12.6" fill="#8a2765" font-weight="bold">5.6%</text>
<text x="394.00" y="430.80" text-anchor="middle" font-size="12.2" font-weight="bold" fill="#1e3a78" stroke="#1e3a78" stroke-width="0.3" stroke-linejoin="round">东北</text>
<text x="379.45 386.58 390.21 397.35" y="444.4" font-size="12.6" fill="#1e3a78" font-weight="bold">1.1%</text>
<text x="316.00" y="555.80" text-anchor="middle" font-size="12.2" font-weight="bold" fill="#5a2878" stroke="#5a2878" stroke-width="0.3" stroke-linejoin="round">华中</text>
<text x="297.45 304.80 308.64 316.00 323.35" y="570.4" font-size="12.6" fill="#5a2878" font-weight="bold">5.25%</text>
<text x="349.40" y="583.60" text-anchor="middle" font-size="12.2" font-weight="bold" fill="#3b6b2b" stroke="#3b6b2b" stroke-width="0.3" stroke-linejoin="round">华东</text>
<text x="326.60 334.18 341.76 345.84 353.42 361.00" y="598.0" font-size="12.6" fill="#3b6b2b" font-weight="bold">22.15%</text>
<text x="298.00" y="616.40" text-anchor="middle" font-size="12.2" font-weight="bold" fill="#2b3990" stroke="#2b3990" stroke-width="0.3" stroke-linejoin="round">华南</text>
<text x="278.70 286.43 294.15 298.37 306.10" y="631.6" font-size="12.6" fill="#2b3990" font-weight="bold">49.5%</text>
<text x="368.20 372.68 377.15 379.62 384.10" y="514.3" font-size="7.2" fill="#111" font-weight="bold">46.4%</text>
<defs><clipPath id="arcclip"><polygon points="487.8,509.1 487.8,380 766.7,380 766.7,700 721.9,700"/></clipPath></defs>
<g clip-path="url(#arcclip)"><path d="M478.65 615.51 A268.50 268.50 0 0 1 872.25 452.47 L846.90 498.38 A217.80 217.80 0 0 0 527.62 630.63 Z" fill="#b9a0cc"/><path d="M530.91 631.51 A214.40 214.40 0 0 1 845.20 501.32 L820.25 544.54 A164.50 164.50 0 0 0 579.11 644.42 Z" fill="#6aab97"/><path d="M582.78 645.41 A160.70 160.70 0 0 1 818.35 547.83 L794.30 589.49 A112.60 112.60 0 0 0 629.24 657.86 Z" fill="#5a68b0"/></g>
<path d="M513.05 522.86 A277 277 0 0 1 710.01 408.92" fill="none" stroke="#f08200" stroke-width="3.0" stroke-dasharray="4.8 2.5"/>
<path d="M742.8 361.8 L720.9 384.7 L733.9 383.2 Q732.5 398 725 412 Q718.5 424 710.2 426.8 Q704 427.5 699.2 423.2 Q705 431.5 714.7 432 Q724 431 732.4 416.5 Q741 400 745 385.5 L751.6 389.9 Z" fill="#e8650e"/>
<path d="M713.5 381 L701.4 399.5 L711 398 Q711.5 410 707.3 419.5 Q703 427 695.5 429.8 Q692 430 690.3 428.3 Q696 433.5 704.3 432 Q711.500 428 715.4 412 Q717 404 716.9 397.3 L722.8 398.8 Z" fill="#f08c00"/>
<g aria-label="展会现场参观人数统计" fill="#f08200" font-size="9.3" font-weight="bold" text-anchor="middle"><text transform="translate(506.17 517.00) rotate(-54.07) skewX(-8.0)">展</text><text transform="translate(511.94 509.32) rotate(-52.15) skewX(-8.0)">会</text><text transform="translate(517.95 501.84) rotate(-50.23) skewX(-8.0)">现</text><text transform="translate(524.22 494.57) rotate(-48.31) skewX(-8.0)">场</text><text transform="translate(530.72 487.51) rotate(-46.38) skewX(-8.0)">参</text><text transform="translate(537.46 480.67) rotate(-44.46) skewX(-8.0)">观</text><text transform="translate(544.42 474.06) rotate(-42.54) skewX(-8.0)">人</text><text transform="translate(551.60 467.69) rotate(-40.62) skewX(-8.0)">数</text><text transform="translate(558.99 461.56) rotate(-38.70) skewX(-8.0)">统</text><text transform="translate(566.59 455.69) rotate(-36.78) skewX(-8.0)">计</text></g>
<g stroke="#f08200" stroke-width="0.30" font-size="10.3" font-weight="normal" font-style="normal" fill="#f08200"><text transform="translate(581.46 445.88) rotate(-33.21)" text-anchor="middle">V</text><text transform="translate(585.92 443.02) rotate(-32.15)" text-anchor="middle">i</text><text transform="translate(589.70 440.69) rotate(-31.26)" text-anchor="middle">s</text><text transform="translate(593.51 438.41) rotate(-30.37)" text-anchor="middle">i</text><text transform="translate(596.37 436.76) rotate(-29.71)" text-anchor="middle">t</text><text transform="translate(600.75 434.31) rotate(-28.70)" text-anchor="middle">o</text><text transform="translate(605.42 431.81) rotate(-27.64)" text-anchor="middle">r</text><text transform="translate(614.13 427.44) rotate(-25.69)" text-anchor="middle">N</text><text transform="translate(620.75 424.36) rotate(-24.22)" text-anchor="middle">u</text><text transform="translate(627.98 421.23) rotate(-22.64)" text-anchor="middle">m</text><text transform="translate(635.29 418.30) rotate(-21.06)" text-anchor="middle">b</text><text transform="translate(641.33 416.05) rotate(-19.77)" text-anchor="middle">e</text><text transform="translate(646.34 414.30) rotate(-18.71)" text-anchor="middle">r</text></g>
<g aria-label="观众总人次" fill="#fff" stroke="#fff" stroke-width="0.45" stroke-linejoin="round" font-size="13.4" font-weight="bold" text-anchor="middle"><text transform="translate(550.42 521.43) rotate(-48.57)">观</text><text transform="translate(559.87 511.30) rotate(-45.39)">众</text><text transform="translate(569.86 501.72) rotate(-42.22)">总</text><text transform="translate(580.37 492.70) rotate(-39.05)">人</text><text transform="translate(591.36 484.27) rotate(-35.88)">次</text></g>
<g stroke="#e8def1" stroke-width="0.35" font-size="13.0" font-weight="bold" font-style="normal" fill="#e8def1"><text transform="translate(573.18 522.88) rotate(-45.12)" text-anchor="middle">T</text><text transform="translate(579.23 517.01) rotate(-43.05)" text-anchor="middle">o</text><text transform="translate(584.13 512.56) rotate(-41.41)" text-anchor="middle">t</text><text transform="translate(588.89 508.48) rotate(-39.87)" text-anchor="middle">a</text><text transform="translate(593.47 504.75) rotate(-38.42)" text-anchor="middle">l</text></g>
<g aria-label="国内观众人次" fill="#fff" stroke="#fff" stroke-width="0.45" stroke-linejoin="round" font-size="13.3" font-weight="bold" text-anchor="middle"><text transform="translate(591.39 561.02) rotate(-49.33)">国</text><text transform="translate(600.57 551.06) rotate(-45.31)">内</text><text transform="translate(610.43 541.77) rotate(-41.30)">观</text><text transform="translate(620.92 533.19) rotate(-37.28)">众</text><text transform="translate(631.98 525.37) rotate(-33.26)">人</text><text transform="translate(643.56 518.34) rotate(-29.25)">次</text></g>
<g stroke="#d5eae1" stroke-width="0.35" font-size="12.2" font-weight="bold" font-style="normal" fill="#d5eae1"><text transform="translate(612.13 567.74) rotate(-46.54)" text-anchor="middle">D</text><text transform="translate(617.76 562.06) rotate(-43.90)" text-anchor="middle">o</text><text transform="translate(624.42 555.98) rotate(-40.92)" text-anchor="middle">m</text><text transform="translate(631.12 550.45) rotate(-38.05)" text-anchor="middle">e</text><text transform="translate(636.44 546.45) rotate(-35.85)" text-anchor="middle">s</text><text transform="translate(640.78 543.42) rotate(-34.10)" text-anchor="middle">t</text><text transform="translate(643.77 541.44) rotate(-32.92)" text-anchor="middle">i</text><text transform="translate(647.97 538.80) rotate(-31.28)" text-anchor="middle">c</text></g>
<g aria-label="国际观众人次" fill="#fff" stroke="#fff" stroke-width="0.45" stroke-linejoin="round" font-size="13.3" font-weight="bold" text-anchor="middle"><text transform="translate(624.17 605.15) rotate(-54.28)">国</text><text transform="translate(632.53 594.63) rotate(-48.79)">际</text><text transform="translate(641.87 584.95) rotate(-43.29)">观</text><text transform="translate(652.09 576.21) rotate(-37.79)">众</text><text transform="translate(663.09 568.49) rotate(-32.30)">人</text><text transform="translate(674.79 561.86) rotate(-26.80)">次</text></g>
<g stroke="#ffffff" stroke-width="0.20" font-size="8.6" font-weight="bold" font-style="normal" fill="#ffffff"><text transform="translate(640.30 614.27) rotate(-53.34)" text-anchor="middle">I</text><text transform="translate(642.85 610.96) rotate(-51.37)" text-anchor="middle">n</text><text transform="translate(645.68 607.55) rotate(-49.29)" text-anchor="middle">t</text><text transform="translate(648.46 604.42) rotate(-47.32)" text-anchor="middle">e</text><text transform="translate(651.53 601.22) rotate(-45.23)" text-anchor="middle">r</text><text transform="translate(654.88 597.97) rotate(-43.04)" text-anchor="middle">n</text><text transform="translate(658.89 594.39) rotate(-40.50)" text-anchor="middle">a</text><text transform="translate(662.12 591.72) rotate(-38.53)" text-anchor="middle">t</text><text transform="translate(664.49 589.89) rotate(-37.12)" text-anchor="middle">i</text><text transform="translate(667.87 587.42) rotate(-35.15)" text-anchor="middle">o</text><text transform="translate(672.54 584.29) rotate(-32.51)" text-anchor="middle">n</text><text transform="translate(677.14 581.50) rotate(-29.98)" text-anchor="middle">a</text><text transform="translate(680.59 579.58) rotate(-28.12)" text-anchor="middle">l</text></g>
<text transform="translate(664.4 464.8) rotate(-8.0)" x="0.00 13.53 27.06 34.02 47.55 61.07" font-size="23.6" font-weight="bold" fill="#5b2c70">30,024</text>
<text transform="translate(676.0 518.5) rotate(-9.6)" x="0.00 13.89 27.78 35.10 48.99 62.87" font-size="23.6" font-weight="bold" fill="#0e4a3b">28,974</text>
<text transform="translate(691.8 568.3) rotate(-10.0)" x="0.00 14.24 21.90 36.14 50.37" font-size="23.6" font-weight="bold" fill="#0e1a3e">1,050</text>
<rect x="45.2" y="590.2" width="121.500" height="71" fill="#fff" fill-opacity="0.6" stroke="#ababab" stroke-width="0.8"/>
<text x="51.60" y="601.60" font-size="6.5" font-weight="900" fill="#f08200">参观商的业务性质</text>
<text x="104.80 107.61 108.74 111.07 112.20 113.57 116.14 117.75 120.08 121.21 123.77 126.10 127.23 130.28 132.84 135.17 136.30 138.87 141.20 143.53 145.86 146.99 150.03 152.36 153.73 156.30 157.91" y="601.0" font-size="4.3" fill="#c9c9c9" font-weight="bold" font-style="italic">Visitors by Business Nature</text>
<text x="52.00 59.08 66.15" y="615.1" font-size="12.2" fill="#f08519" stroke="#f08519" stroke-width="0.3">42%</text>
<text transform="translate(96.00 613.30) skewX(-10.0)" font-size="6.1" font-weight="500" fill="#444">加工企业</text>
<text x="52.00 59.23 66.45" y="628.6" font-size="12.2" fill="#f08519" stroke="#f08519" stroke-width="0.3">34%</text>
<text transform="translate(96.00 626.85) skewX(-10.0)" font-size="6.1" font-weight="500" fill="#444">生产制造企业</text>
<text x="52.00 58.08 64.15" y="642.2" font-size="12.2" fill="#f08519" stroke="#f08519" stroke-width="0.3">21%</text>
<text transform="translate(96.00 640.40) skewX(-10.0)" font-size="6.1" font-weight="500" fill="#444">经销商/代理</text>
<text x="52.00 58.45" y="655.8" font-size="12.2" fill="#f08519" stroke="#f08519" stroke-width="0.3">3%</text>
<text transform="translate(96.00 653.95) skewX(-10.0)" font-size="6.1" font-weight="500" fill="#444">其他</text>
<text x="363.90" y="646.60" text-anchor="middle" font-size="11.6" font-weight="bold" fill="#009fe8" stroke="#009fe8" stroke-width="0.3" stroke-linejoin="round">港澳台地区</text>
<text x="348.90 356.50 360.81 368.41" y="660.2" font-size="11.8" fill="#009fe8" font-weight="bold">6.4%</text>
<text x="430.60" y="645.80" text-anchor="middle" font-size="11.3" font-weight="bold" fill="#2347a3" stroke="#2347a3" stroke-width="0.3" stroke-linejoin="round">境外</text>
<text x="415.85 423.51 427.82 435.48" y="660.3" font-size="12.0" fill="#2347a3" font-weight="bold">3.5%</text>
<g fill="none" stroke="#2347a3" stroke-width="1.8"><circle cx="431.1" cy="615.8" r="9.7"/><path d="M431.1 606.1 A4.6 9.7 0 0 0 431.1 625.5"/><path d="M421.6 612.2 H440.6 M421.6 619.3 H440.6 M431.1 606 V625.6"/></g>
<path d="M436.9 604.3 a4.5 4.5 0 0 1 4.5 4.5 c0 3.200 -4.5 7.600 -4.5 7.600 c0 0 -4.5 -4.400 -4.5 -7.600 a4.5 4.5 0 0 1 4.5 -4.500 Z" fill="#2347a3" stroke="#fff" stroke-width="1.6" paint-order="stroke"/><circle cx="436.9" cy="608.7" r="1.25" fill="#fff"/>
<text x="464.50" y="651.20" font-size="9.15" letter-spacing="0.42" fill="#3d3d3d">（印度、马来西亚、印尼、俄罗斯、日本、韩国、新加坡、摩洛</text>
<text x="464.60" y="664.30" font-size="9.15" fill="#3d3d3d">哥、伊朗、越南、巴基斯坦、意大利、西班牙）</text>
</svg>
</body></html>
